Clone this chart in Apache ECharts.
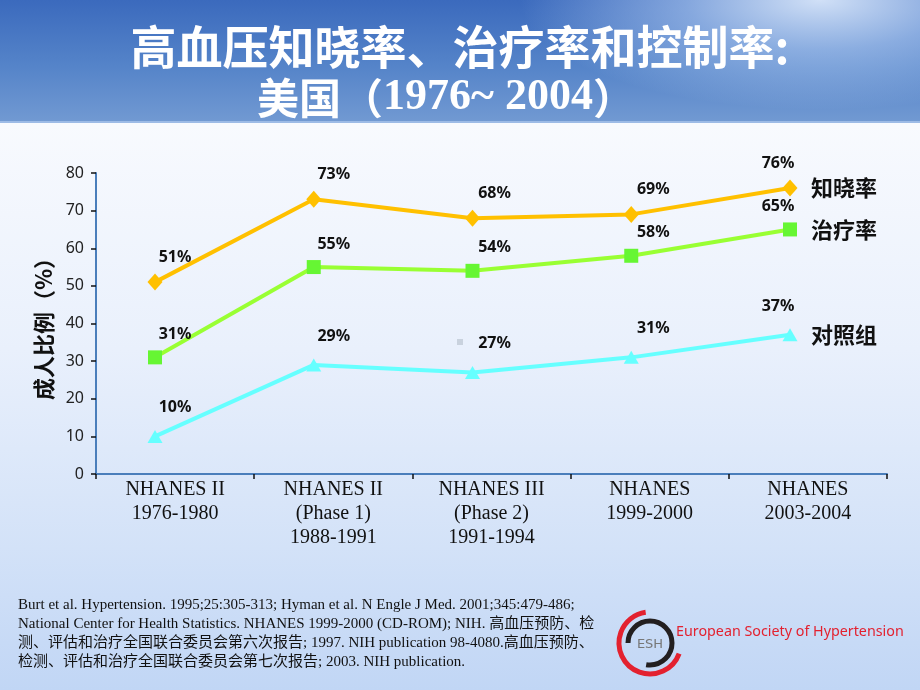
<!DOCTYPE html>
<html>
<head>
<meta charset="utf-8">
<script src="https://cdn.jsdelivr.net/npm/echarts@6/dist/echarts.min.js"></script>
<style>
  html, body { margin: 0; padding: 0; }
  #wrap { position: relative; width: 920px; height: 690px; overflow: hidden; }
  #header { position: absolute; left: 0; top: 0; width: 920px; height: 121px;
    background:
      radial-gradient(ellipse 300px 110px at 820px 0px, rgba(225,237,253,0.9) 0%, rgba(190,214,247,0.55) 45%, rgba(120,160,220,0) 100%),
      linear-gradient(to bottom, #3b6abd 0%, #5584c9 55%, #7199d2 100%); }
  #hline { position: absolute; left: 0; top: 121px; width: 920px; height: 2px; background: #9dbbe6; }
  #body { position: absolute; left: 0; top: 123px; width: 920px; height: 567px;
    background: linear-gradient(to bottom, #f8fafe 0%, #e9f0fc 40%, #d3e2f8 75%, #c1d6f5 100%); }
  #chart { position: absolute; left: 0; top: 0; width: 920px; height: 690px; }
</style>
</head>
<body>
<div id="wrap">
  <div id="header"></div>
  <div id="hline"></div>
  <div id="body"></div>
  <div id="chart"></div>
</div>
<script>
// ---- data ----
const categories = [
  'NHANES II\n1976-1980',
  'NHANES II\n(Phase 1)\n1988-1991',
  'NHANES III\n(Phase 2)\n1991-1994',
  'NHANES\n1999-2000',
  'NHANES\n2003-2004'
];
const seriesNames = ['知晓率', '治疗率', '对照组'];
const awareness = [51, 73, 68, 69, 76];
const treatment = [31, 55, 54, 58, 65];
const control = [10, 29, 27, 31, 37];
const yMin = 0, yMax = 80, yStep = 10;
const yAxisTitle = '成人比例（%）';
const titleLine1 = '高血压知晓率、治疗率和控制率:';
const titleLine2Cjk = '美国（';
const titleLine2Num = '1976~ 2004';
const titleLine2End = '）';
const footerLines = [
  'Burt et al. Hypertension. 1995;25:305-313; Hyman et al. N Engle J Med. 2001;345:479-486;',
  'National Center for Health Statistics. NHANES 1999-2000 (CD-ROM); NIH. 高血压预防、检',
  '测、评估和治疗全国联合委员会第六次报告; 1997. NIH publication 98-4080.高血压预防、',
  '检测、评估和治疗全国联合委员会第七次报告; 2003. NIH publication.'
];
const logoText = 'European Society of Hypertension';
const logoAbbr = 'ESH';

// ---- chart ----
const chart = echarts.init(document.getElementById('chart'), null, { renderer: 'canvas' });

const labelDx = [20, 20, 22, 22, -12];
function makeSeries(name, values, color, lineColor, symbol, symbolSize, labelDist) {
  return {
    name: name,
    type: 'line',
    xAxisIndex: 1,
    yAxisIndex: 1,
    data: values.map((v, i) => ({ value: v, label: { offset: [labelDx[i], 0] } })),
    symbol: symbol,
    symbolSize: symbolSize,
    showSymbol: true,
    lineStyle: { color: lineColor, width: 4 },
    itemStyle: { color: color },
    label: {
      show: true, position: 'top', distance: labelDist,
      formatter: '{c}%', fontFamily: 'Noto Sans', fontWeight: 'bold', fontSize: 16, color: '#111'
    },
    endLabel: {
      show: true, formatter: '{a}', distance: 21,
      fontFamily: 'Noto Sans CJK SC', fontWeight: 'bold', fontSize: 22, color: '#111'
    },
    emphasis: { disabled: true },
    z: 3
  };
}

const gText = (text, x, y, opts) => ({
  type: 'text', x: 0, y: 0, silent: true,
  style: Object.assign({ text: text, x: x, y: y, fill: '#000', align: 'left', textAlign: 'left',
    verticalAlign: 'middle', textVerticalAlign: 'middle' }, opts)
});

const footerFont = { fontFamily: "'Liberation Serif', 'Noto Sans CJK SC'", fontSize: 15, fill: '#111' };

const option = {
  animation: false,
  backgroundColor: 'transparent',
  grid: [
    { left: 96, right: 33, top: 173, bottom: 216, containLabel: false },
    { left: 155, right: 130, top: 173, bottom: 216, containLabel: false }
  ],
  xAxis: [
    {
      gridIndex: 0, type: 'category', data: categories, boundaryGap: true,
      axisLine: { show: true, lineStyle: { color: '#4a7ebb', width: 2 } },
      axisTick: { show: true, length: 5, lineStyle: { color: '#111', width: 1.5 } },
      axisLabel: { interval: 0, margin: 4, fontFamily: 'Liberation Serif', fontSize: 20, lineHeight: 24, color: '#111' },
      splitLine: { show: false }
    },
    { gridIndex: 1, type: 'category', data: categories, boundaryGap: false, show: false }
  ],
  yAxis: [
    {
      gridIndex: 0, type: 'value', min: yMin, max: yMax, interval: yStep,
      name: yAxisTitle, nameLocation: 'middle', nameRotate: 90, nameGap: 41,
      nameTextStyle: { fontFamily: 'Noto Sans CJK SC', fontWeight: 'bold', fontSize: 22, color: '#111' },
      axisLine: { show: true, lineStyle: { color: '#4a7ebb', width: 2 } },
      axisTick: { show: true, length: 5, lineStyle: { color: '#111', width: 1.5 } },
      axisLabel: { margin: 12, fontFamily: 'Noto Sans', fontSize: 16, color: '#222' },
      splitLine: { show: false }
    },
    { gridIndex: 1, type: 'value', min: yMin, max: yMax, interval: yStep, show: false }
  ],
  series: [
    makeSeries(seriesNames[0], awareness, '#ffc000', '#ffc000', 'diamond', [15, 17], 8),
    makeSeries(seriesNames[1], treatment, '#66f633', '#99ff33', 'rect', [14, 14], 8),
    makeSeries(seriesNames[2], control, '#66ffff', '#66ffff', 'triangle', [15, 13], 14)
  ],
  graphic: {
    elements: [
      gText(titleLine1, 460, 47, { fill: '#fff', align: 'center', textAlign: 'center',
        fontFamily: 'Noto Sans CJK SC', fontWeight: 'bold', fontSize: 46 }),
      {
        type: 'text', x: 0, y: 0, silent: true,
        style: {
          text: '{c|' + titleLine2Cjk + '}{n|' + titleLine2Num + '}{c|' + titleLine2End + '}',
          x: 446, y: 98, align: 'center', textAlign: 'center', verticalAlign: 'middle', textVerticalAlign: 'middle',
          rich: {
            c: { fontFamily: 'Noto Sans CJK SC', fontWeight: 'bold', fontSize: 42, fill: '#fff', color: '#fff' },
            n: { fontFamily: 'Liberation Serif', fontWeight: 'bold', fontSize: 44, fill: '#fff', color: '#fff' }
          }
        }
      },
      // stray marker in reference
      { type: 'rect', silent: true, shape: { x: 457, y: 339, width: 6, height: 6 }, style: { fill: '#c9d2de' } },
      // footer
      gText(footerLines[0], 18, 605, footerFont),
      gText(footerLines[1], 18, 624, footerFont),
      gText(footerLines[2], 18, 643, footerFont),
      gText(footerLines[3], 18, 662, footerFont),
      // ESH logo
      { type: 'arc', silent: true, shape: { cx: 650, cy: 643, r: 31, startAngle: 20 * Math.PI / 180, endAngle: 262 * Math.PI / 180, clockwise: true },
        style: { stroke: '#e3212f', lineWidth: 5, fill: null } },
      { type: 'arc', silent: true, shape: { cx: 650, cy: 643, r: 22, startAngle: 180 * Math.PI / 180, endAngle: 460 * Math.PI / 180, clockwise: true },
        style: { stroke: '#231f20', lineWidth: 5, fill: null } },
      gText(logoAbbr, 650, 645, { align: 'center', textAlign: 'center', fontFamily: 'DejaVu Sans', fontSize: 13, fill: '#777' }),
      gText(logoText, 676, 632, { fontFamily: 'Noto Sans', fontSize: 14.3, fill: '#e3212f' })
    ]
  }
};
chart.setOption(option);
</script>
</body>
</html>
